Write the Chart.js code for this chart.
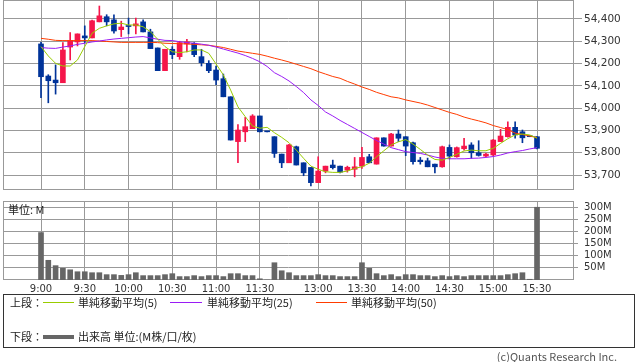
<!DOCTYPE html>
<html>
<head>
<meta charset="utf-8">
<title>Intraday chart</title>
<script src="https://cdn.jsdelivr.net/npm/chart.js@4.4.1/dist/chart.umd.min.js"></script>
<style>
  body{margin:0;background:#fff;width:638px;height:362px;position:relative;overflow:hidden;
       font-family:"Noto Sans CJK JP","DejaVu Sans",sans-serif;color:#222;}
  canvas{position:absolute;left:0;}
  #price{top:0;}
  #volume{top:195px;}
  .txt{position:absolute;font-size:11px;line-height:13px;white-space:nowrap;}
  .ln{position:absolute;height:0;}
  #legend{position:absolute;left:3px;top:294px;width:630px;height:52px;border:1px solid #333;}
</style>
</head>
<body>
<canvas id="price" width="638" height="190"></canvas>
<canvas id="volume" width="638" height="105"></canvas>
<div class="txt" style="left:8px;top:203px;">単位: M</div>

<div id="legend"></div>
<div class="txt" style="left:10px;top:296px;">上段：</div>
<div class="ln" style="left:43px;top:302px;width:31px;border-top:1px solid #99cc00;"></div>
<div class="txt" style="left:78px;top:296px;">単純移動平均(5)</div>
<div class="ln" style="left:170px;top:302px;width:32px;border-top:1px solid #9a1cf5;"></div>
<div class="txt" style="left:207px;top:296px;">単純移動平均(25)</div>
<div class="ln" style="left:316px;top:302px;width:31px;border-top:1px solid #ff3c00;"></div>
<div class="txt" style="left:351px;top:296px;">単純移動平均(50)</div>
<div class="txt" style="left:10px;top:330px;">下段：</div>
<div class="ln" style="left:43px;top:335px;width:31px;border-top:4px solid #666;"></div>
<div class="txt" style="left:78px;top:330px;">出来高 単位:(M株/口/枚)</div>
<div class="txt" style="right:21px;top:350px;color:#555;">(c)Quants Research Inc.</div>

<script>
// 5分足の時刻（11:35 は前場引けの板寄せ）
const times = ['9:00','9:05','9:10','9:15','9:20','9:25','9:30','9:35','9:40','9:45','9:50','9:55',
  '10:00','10:05','10:10','10:15','10:20','10:25','10:30','10:35','10:40','10:45','10:50','10:55',
  '11:00','11:05','11:10','11:15','11:20','11:25','11:30','11:35',
  '12:30','12:35','12:40','12:45','12:50','12:55',
  '13:00','13:05','13:10','13:15','13:20','13:25','13:30','13:35','13:40','13:45','13:50','13:55',
  '14:00','14:05','14:10','14:15','14:20','14:25','14:30','14:35','14:40','14:45','14:50','14:55',
  '15:00','15:05','15:10','15:15','15:20','15:25','15:30'];

const openP = [54288,54144,54126,54114,54274,54297,54324,54315,54387,54410,54396,54352,
  54369,54369,54387,54342,54270,54168,54264,54231,54288,54291,54231,54201,
  54171,54132,54051,53850,53894,53908,53965,53894,
  53872,53794,53755,53827,53755,53734,
  53666,53718,53745,53740,53722,53726,53740,53782,53749,53867,53830,53884,
  53872,53845,53767,53764,53749,53737,53824,53782,53818,53835,53800,53785,
  53790,53850,53872,53914,53894,53872,53872];
const highP = [54295,54150,54194,54294,54339,54333,54369,54395,54458,54419,54419,54390,
  54404,54404,54396,54354,54270,54264,54276,54300,54309,54294,54264,54213,
  54189,54153,54051,53926,53959,53971,53965,53894,
  53872,53794,53838,53830,53755,53734,
  53782,53740,53767,53740,53740,53779,53824,53793,53867,53867,53887,53902,
  53872,53848,53779,53776,53749,53830,53835,53826,53865,53845,53854,53797,
  53860,53905,53939,53939,53902,53872,53872];
const lowP = [54047,54024,54063,54114,54216,54279,54294,54315,54387,54369,54336,54321,
  54333,54333,54342,54267,54168,54168,54222,54219,54252,54231,54189,54159,
  54105,54051,53857,53755,53850,53908,53894,53894,
  53779,53733,53755,53745,53697,53651,
  53666,53710,53727,53710,53713,53692,53730,53755,53749,53830,53830,53850,
  53787,53749,53749,53737,53710,53735,53773,53780,53812,53775,53785,53782,
  53787,53850,53870,53865,53845,53872,53817];
const closeP = [54141,54123,54114,54261,54303,54333,54315,54392,54414,54387,54346,54364,
  54366,54378,54342,54267,54168,54264,54240,54294,54297,54240,54204,54168,
  54126,54051,53857,53902,53917,53965,53894,53894,
  53797,53755,53835,53745,53710,53666,
  53718,53740,53733,53713,53735,53737,53779,53755,53867,53830,53884,53865,
  53830,53760,53760,53737,53737,53827,53785,53823,53830,53800,53788,53794,
  53857,53875,53914,53880,53867,53872,53820];

const sma5 = [54276,54234,54201,54189,54189,54216,54276,54336,54358,54369,54378,54381,
  54373,54373,54365,54343,54309,54276,54253,54249,54253,54261,54261,54246,
  54198,54149,54081,54006,53962,53920,53910,53914,
  53890,53869,53845,53812,53775,53740,
  53726,53715,53712,53712,53718,53730,53737,53753,53782,53809,53835,53849,
  53859,53839,53815,53790,53770,53767,53779,53793,53808,53812,53809,53809,
  53820,53842,53863,53880,53884,53880,53865];
const sma25 = [54272,54269,54268,54274,54279,54286,54291,54297,54301,54306,54310,54313,
  54316,54319,54321,54315,54309,54304,54303,54298,54294,54291,54287,54282,
  54274,54265,54256,54247,54236,54223,54208,54187,
  54159,54142,54122,54097,54070,54037,
  54012,53983,53965,53945,53927,53909,53891,53873,53855,53839,53823,53814,
  53805,53801,53797,53790,53781,53775,53773,53773,53773,53775,53776,53779,
  53783,53790,53799,53805,53810,53817,53823];
const sma50 = [54313,54309,54304,54303,54303,54303,54303,54303,54301,54299,54297,54295,
  54295,54295,54295,54295,54294,54291,54290,54289,54288,54286,54284,54282,
  54277,54272,54264,54256,54251,54246,54241,54233,
  54224,54216,54207,54197,54187,54177,
  54164,54153,54142,54134,54120,54108,54095,54084,54071,54061,54051,54046,
  54037,54030,54023,54014,54003,53992,53981,53972,53960,53951,53943,53934,
  53922,53913,53904,53888,53882,53875,53868];

// 出来高 (M)
const volume = [195,81,59,48,42,34,34,30,30,22,22,19,
  22,30,18,18,18,22,26,14,14,18,14,18,
  18,14,26,26,18,18,5,0,
  71,38,30,18,18,18,
  22,18,18,14,14,14,71,48,26,18,22,14,
  22,22,18,18,14,18,14,18,14,18,18,18,
  18,18,22,26,30,3,299];

const tickLabels = ['9:00','9:30','10:00','10:30','11:00','11:30','13:00','13:30','14:00','14:30','15:00','15:30'];
const priceTicks = [53700,53800,53900,54000,54100,54200,54300,54400];
const volumeTicks = [50,100,150,200,250,300];

const UP = '#f5164a', DOWN = '#003399', GRID = '#999';
const idx = times.map((t, i) => i);
const tickSlots = tickLabels.map(t => times.indexOf(t));
const candleColors = idx.map(i => closeP[i] > openP[i] ? UP : DOWN);

// 枠線
const frame = {
  id: 'frame',
  beforeDatasetsDraw(chart) {
    const a = chart.chartArea, c = chart.ctx;
    c.save();
    c.strokeStyle = GRID;
    c.lineWidth = 1;
    c.strokeRect(Math.round(a.left) + 0.5, Math.round(a.top) + 0.5,
                 Math.round(a.right - a.left) - 1, Math.round(a.bottom - a.top) - 1);
    c.restore();
  }
};

function noPad(s) {
  s.paddingTop = 0; s.paddingBottom = 0; s.paddingLeft = 0; s.paddingRight = 0;
}

function maLine(vals, color) {
  return {type: 'line', data: idx.map(i => ({x: i, y: vals[i]})), borderColor: color,
          borderWidth: 1, pointRadius: 0, fill: false, order: 0};
}

function xAxis(showLabels) {
  return {
    type: 'linear', min: -5.21, max: 73.07, offset: false,
    afterBuildTicks: s => { s.ticks = tickSlots.map(v => ({value: v})); },
    afterFit: s => { s.height = showLabels ? 20 : 0; noPad(s); },
    grid: {color: GRID, drawTicks: false, offset: false},
    border: {display: false},
    ticks: {display: showLabels, autoSkip: false, maxRotation: 0, padding: 3, color: '#333',
            font: {family: 'DejaVu Sans', size: 10},
            callback: v => tickLabels[tickSlots.indexOf(v)]}
  };
}

function yAxis(min, max, values, tickLen, pad, size, fmt) {
  return {
    position: 'right', min: min, max: max,
    afterBuildTicks: s => { s.ticks = values.map(v => ({value: v})); },
    afterFit: s => { s.width = 64; noPad(s); },
    grid: {color: GRID, tickLength: tickLen},
    border: {display: false},
    ticks: {autoSkip: false, padding: pad, color: '#333', font: {family: 'DejaVu Sans', size: size},
            callback: fmt}
  };
}

new Chart(document.getElementById('price'), {
  type: 'bar',
  data: {
    datasets: [
      maLine(sma5, '#99cc00'),
      maLine(sma25, '#9a1cf5'),
      maLine(sma50, '#ff3c00'),
      {data: idx.map(i => ({x: i, y: [openP[i], closeP[i]]})), backgroundColor: candleColors,
       barThickness: 5, minBarLength: 1, grouped: false, order: 1},
      {data: idx.map(i => ({x: i, y: [lowP[i], highP[i]]})), backgroundColor: candleColors,
       barThickness: 1, grouped: false, order: 2}
    ]
  },
  options: {
    responsive: false, animation: false, events: [],
    layout: {padding: {left: 3, top: 0, right: 0, bottom: 0}},
    plugins: {legend: {display: false}, tooltip: {enabled: false}},
    scales: {
      x: xAxis(false),
      y: yAxis(53633, 54485, priceTicks, 8, 2, 10.5, v => v.toLocaleString('en-US'))
    }
  },
  plugins: [frame]
});

new Chart(document.getElementById('volume'), {
  type: 'bar',
  data: {
    datasets: [
      {data: idx.map(i => ({x: i, y: volume[i]})), backgroundColor: '#666', barThickness: 5}
    ]
  },
  options: {
    responsive: false, animation: false, events: [],
    layout: {padding: {left: 3, top: 6, right: 0, bottom: 0}},
    plugins: {legend: {display: false}, tooltip: {enabled: false}},
    scales: {
      x: xAxis(true),
      y: yAxis(0, 324.7, volumeTicks, 4, 6, 10, v => v + 'M')
    }
  },
  plugins: [frame]
});
</script>
</body>
</html>
